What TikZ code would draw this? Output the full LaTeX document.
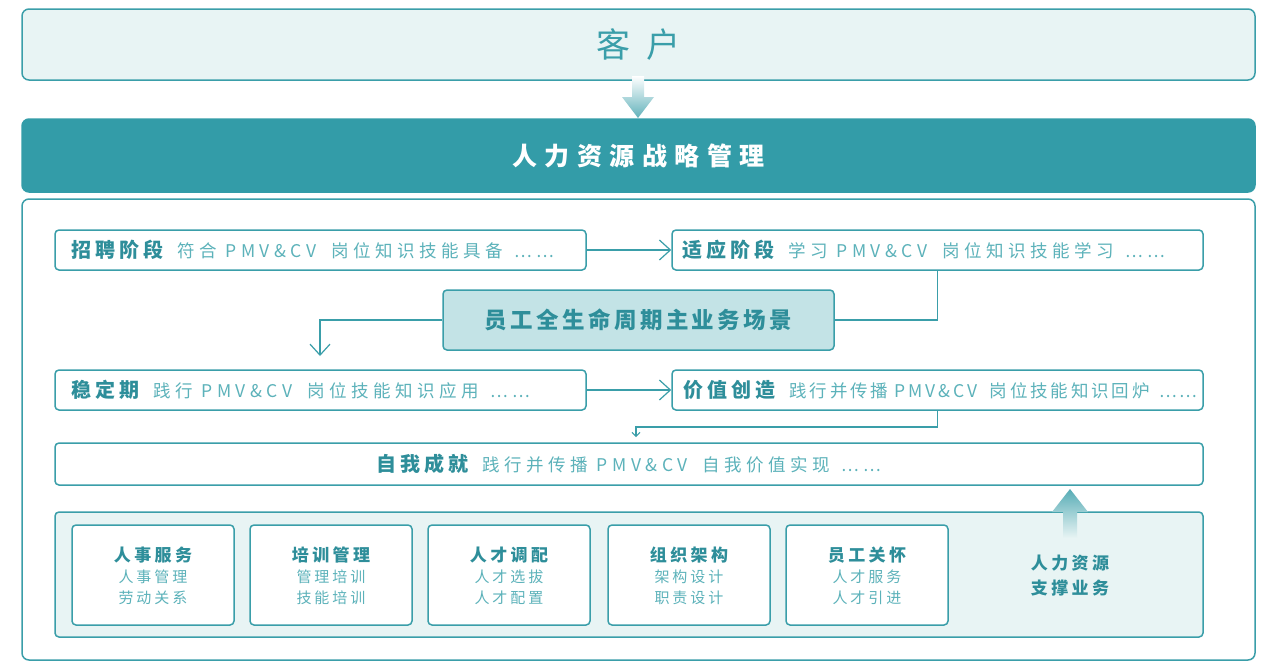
\documentclass[tikz,border=0pt]{standalone}
\usepackage{fontspec}
\usepackage{graphicx}
\setmainfont{Noto Sans CJK SC}
\newfontfamily\fsA{Noto Sans CJK SC}[LetterSpace=20]
\newfontfamily\fsB{Noto Sans CJK SC}[LetterSpace=30]
\newfontfamily\fsC{Noto Sans CJK SC}[LetterSpace=45]
\newfontfamily\fsD{Noto Sans CJK SC}[LetterSpace=15]
\newfontfamily\dsA{Noto Sans CJK SC}[LetterSpace=26]
\newfontfamily\dsB{Noto Sans CJK SC}[LetterSpace=16]
\usetikzlibrary{arrows.meta}
\definecolor{teal1}{HTML}{3A9EA9}
\definecolor{bar}{HTML}{339CA8}
\definecolor{lightbg}{HTML}{E8F4F4}
\definecolor{midbg}{HTML}{C3E3E6}
\definecolor{hd}{HTML}{2E8E9A}
\definecolor{ds}{HTML}{5CB2BA}
\tikzset{
  box/.style={draw=teal1, line width=1.5pt, rounded corners=4pt, inner sep=0pt, anchor=center},
  bigbox/.style={box, rounded corners=7pt},
  conn/.style={draw=teal1, line width=1.2pt},
  arr/.style={conn, -{Straight Barb[length=11pt,width=20pt,line width=1.2pt]}},
  sarr/.style={conn, -{Straight Barb[length=4pt,width=8pt,line width=1pt]}},
  rowtxt/.style={anchor=west, inner sep=0pt, text=ds, font=\fontsize{17.5}{20}\selectfont},
  smalltxt/.style={align=center, inner sep=0pt, text=ds, font=\fsA\fontsize{15}{21}\selectfont}
}
\newcommand{\hdr}[1]{{\color{hd}\fsA\fontsize{20}{22}\selectfont\bfseries #1}\hspace{14pt}}
\newcommand{\ellx}{\scalebox{0.95}[1]{……}}
\begin{document}
\begin{tikzpicture}[x=1pt,y=-1pt]
\useasboundingbox (0,0) rectangle (1274,662);
% top boxes
\node[bigbox, fill=lightbg, minimum width=1233pt, minimum height=71pt] (kehu) at (638.5,44.5) {};
\node[text=teal1, font=\fsC\fontsize{34}{40}\selectfont] (kehut) at (kehu.center) {客户};
\node[bigbox, draw=bar, fill=bar, minimum width=1233pt, minimum height=73pt] (hrsm) at (638.5,155.5) {};
\node[text=white, font=\fsB\fontsize{25}{28}\selectfont\bfseries] (hrsmt) at (hrsm.center) {人力资源战略管理};
% gradient arrow down
\shade[top color=white, bottom color=teal1!80] (632,76) -- (644,76) -- (644,97) -- (654,97) -- (638,118) -- (622,97) -- (632,97) -- cycle;
% outer box
\node[bigbox, fill=white, minimum width=1233pt, minimum height=461pt] (outer) at (638.5,429.5) {};
% rows
\node[box, minimum width=531pt, minimum height=40pt] (zp) at (320.5,250) {};
\node[box, minimum width=531pt, minimum height=40pt] (sy) at (937.5,250) {};
\node[box, fill=midbg, minimum width=391pt, minimum height=60pt] (mid) at (638.5,320) {};
\node[text=hd, font=\fsD\fontsize{22.5}{26}\selectfont\bfseries] (midt) at (mid.center) {员工全生命周期主业务场景};
\node[box, minimum width=531pt, minimum height=40pt] (wd) at (320.5,390) {};
\node[box, minimum width=531pt, minimum height=40pt] (jz) at (937.5,390) {};
\node[box, minimum width=1148pt, minimum height=42pt] (zw) at (629,464) {};
\node[rowtxt] (zpt) at ([xshift=17pt]zp.west) {\hdr{招聘阶段}{\dsA 符合 PMV\&CV \hspace{6pt}岗位知识技能具备 \hspace{3pt}\ellx}};
\node[rowtxt] (syt) at ([xshift=11pt]sy.west) {\hdr{适应阶段}{\dsA 学习 PMV\&CV \hspace{6pt}岗位知识技能学习 \hspace{3pt}\ellx}};
\node[rowtxt] (wdt) at ([xshift=17pt]wd.west) {\hdr{稳定期}{\dsA 践行 PMV\&CV \hspace{6pt}岗位技能知识应用 \hspace{3pt}\ellx}};
\node[rowtxt] (jzt) at ([xshift=12pt]jz.west) {\hdr{价值创造}{\dsB 践行并传播 PMV\&CV \hspace{6pt}岗位技能知识回炉 \hspace{3pt}\ellx}};
\node[rowtxt, anchor=center] (zwt) at (629,464) {\hdr{自我成就}{\dsA 践行并传播 PMV\&CV \hspace{6pt}自我价值实现 \hspace{3pt}\ellx}};
% connectors
\coordinate (d1) at (320,356);
\coordinate (d2) at (636,437);
\draw[arr] (zp.east) -- (sy.west);
\draw[arr] (wd.east) -- (jz.west);
\draw[conn] (sy.south) |- (mid.east);
\draw[arr] (mid.west) -| (d1);
\draw[sarr] (jz.south) |- (d2 |- 0,427) -- (d2);
% bottom panel
\node[box, fill=lightbg, minimum width=1148pt, minimum height=125pt] (panel) at (629,574.5) {};
\foreach \n/\x/\a/\b/\c in {rs/153/人事服务/人事管理/劳动关系, px/331/培训管理/管理培训/技能培训, rc/509/人才调配/人才选拔/人才配置, zz/689/组织架构/架构设计/职责设计, yg/867/员工关怀/人才服务/人才引进}{
  \node[box, fill=white, minimum width=162pt, minimum height=100pt] (\n) at (\x,575) {};
  \node[smalltxt] (\n t) at (\x,576) {{\color{hd}\fontsize{17}{21}\selectfont\bfseries \a}\\ \b\\ \c};
}
\node[align=center, inner sep=0pt, text=hd, font=\fsA\fontsize{17}{25}\selectfont\bfseries] (zc) at (1070,576) {人力资源\\支撑业务};
% gradient arrow up
\shade[top color=teal1!85, bottom color=lightbg] (1063,538) -- (1077,538) -- (1077,512) -- (1088,512) -- (1070,489) -- (1052,512) -- (1063,512) -- cycle;
\end{tikzpicture}
\end{document}
